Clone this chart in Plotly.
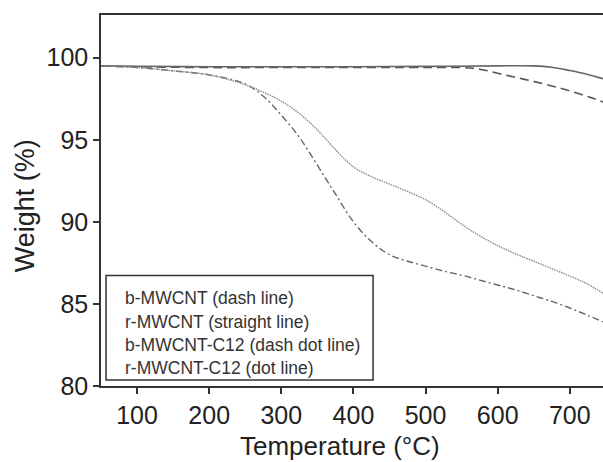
import plotly.graph_objects as go

# Data
temp_flat = [50, 100, 200, 300, 400, 500, 550, 575, 600, 625, 650, 675, 700, 725, 746]
b_mwcnt = [99.5, 99.45, 99.4, 99.4, 99.4, 99.4, 99.4, 99.3, 99.05, 98.8, 98.55, 98.28, 97.98, 97.63, 97.3]

temp_r = [50, 100, 200, 300, 400, 500, 600, 650, 675, 700, 725, 746]
r_mwcnt = [99.5, 99.48, 99.45, 99.45, 99.45, 99.47, 99.5, 99.5, 99.42, 99.22, 98.98, 98.72]

temp_c12 = [50, 100, 150, 200, 250, 275, 300, 325, 350, 375, 400, 425, 450, 475, 500,
            525, 550, 575, 600, 625, 650, 675, 700, 725, 746]
b_mwcnt_c12 = [99.5, 99.4, 99.2, 98.95, 98.4, 97.65, 96.5, 95.15, 93.45, 91.7, 90.0,
               88.8, 88.0, 87.6, 87.3, 87.0, 86.75, 86.45, 86.15, 85.85, 85.5, 85.15,
               84.75, 84.3, 83.9]
r_mwcnt_c12 = [99.5, 99.4, 99.2, 98.95, 98.35, 97.9, 97.35, 96.6, 95.6, 94.4, 93.35,
               92.75, 92.3, 91.85, 91.35, 90.65, 89.85, 89.15, 88.55, 88.05, 87.6,
               87.15, 86.7, 86.2, 85.65]

legend_labels = ["b-MWCNT (dash line)", "r-MWCNT (straight line)",
                 "b-MWCNT-C12 (dash dot line)", "r-MWCNT-C12 (dot line)"]

x_ticks = [100, 200, 300, 400, 500, 600, 700]
y_ticks = [80, 85, 90, 95, 100]

fig = go.Figure()
fig.add_trace(go.Scatter(x=temp_flat, y=b_mwcnt, mode="lines", line_shape="spline",
                         line=dict(color="#555555", width=1.6, dash="9px,5px")))
fig.add_trace(go.Scatter(x=temp_r, y=r_mwcnt, mode="lines", line_shape="spline",
                         line=dict(color="#666666", width=1.6)))
fig.add_trace(go.Scatter(x=temp_c12, y=b_mwcnt_c12, mode="lines", line_shape="spline",
                         line=dict(color="#666666", width=1.4, dash="7px,3px,2px,3px")))
fig.add_trace(go.Scatter(x=temp_c12, y=r_mwcnt_c12, mode="lines", line_shape="spline",
                         line=dict(color="#8a8a8a", width=1.4, dash="1.5px,1px")))

# legend box
fig.add_shape(type="rect", xref="paper", yref="paper",
              x0=0.01, x1=0.542, y0=0.016, y1=0.298,
              line=dict(color="#333333", width=1.5), fillcolor="white", layer="above")
ys = [0.236, 0.172, 0.110, 0.048]
for lab, yy in zip(legend_labels, ys):
    fig.add_annotation(xref="paper", yref="paper", x=0.044, y=yy, text=lab,
                       showarrow=False, xanchor="left", yanchor="middle",
                       font=dict(family="Liberation Sans, Arial", size=17.5, color="#333333"))

# axis titles
fig.add_annotation(xref="paper", yref="paper", x=0.476, y=-0.162, text="Temperature (°C)",
                   showarrow=False, xanchor="center", yanchor="middle",
                   font=dict(family="Liberation Sans, Arial", size=26, color="#222222"))
fig.add_annotation(xref="paper", yref="paper", x=-0.151, y=0.485, text="Weight (%)",
                   textangle=-90, showarrow=False, xanchor="center", yanchor="middle",
                   font=dict(family="Liberation Sans, Arial", size=27, color="#222222"))

fig.update_layout(
    width=603, height=462,
    margin=dict(l=101, r=0, t=15, b=76),
    paper_bgcolor="white", plot_bgcolor="white",
    showlegend=False,
    font=dict(family="Liberation Sans, Arial", color="#222222"),
)
fig.update_xaxes(range=[50, 746], tickvals=x_ticks, ticks="outside", ticklen=6,
                 tickwidth=1.5, tickcolor="#333333", showline=True, linecolor="#333333",
                 linewidth=1.5, mirror=True, showgrid=False, zeroline=False,
                 tickfont=dict(size=25, color="#222222"))
fig.update_yaxes(range=[80, 102.6], tickvals=y_ticks, ticks="outside", ticklen=6,
                 tickwidth=1.5, tickcolor="#333333", showline=True, linecolor="#333333",
                 linewidth=1.5, mirror=False, showgrid=False, zeroline=False,
                 tickfont=dict(size=25, color="#222222"))

fig.write_html("out.html")
